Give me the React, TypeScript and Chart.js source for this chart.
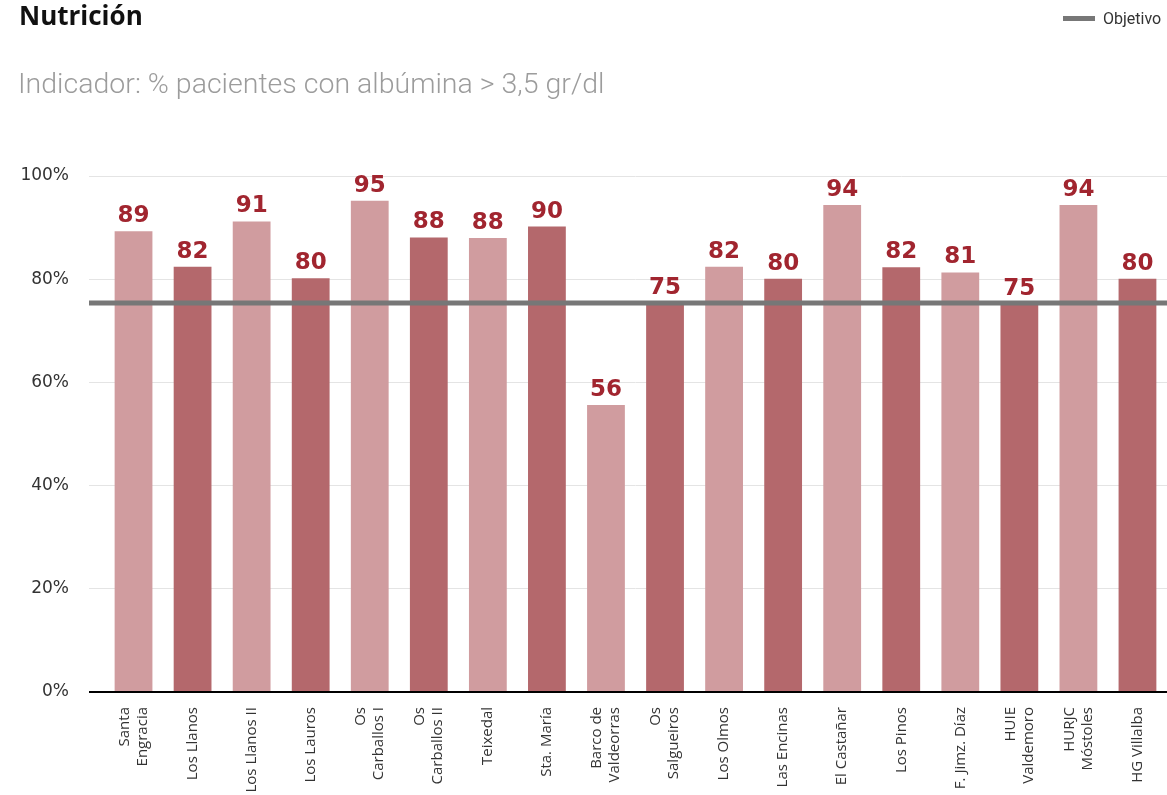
import React, { useEffect, useRef } from "react";
import { Chart, registerables } from "chart.js";

Chart.register(...registerables);

const TITLE = "Nutrición";
const SUBTITLE = "Indicador: % pacientes con albúmina > 3,5 gr/dl";
const LEGEND_LABEL = "Objetivo";

const CATEGORIES: (string | string[])[] = [
  ["Santa", "Engracia"],
  "Los Llanos",
  "Los Llanos II",
  "Los Lauros",
  ["Os", "Carballos I"],
  ["Os", "Carballos II"],
  "Teixedal",
  "Sta. María",
  ["Barco de", "Valdeorras"],
  ["Os", "Salgueiros"],
  "Los Olmos",
  "Las Encinas",
  "El Castañar",
  "Los Pinos",
  "F. Jimz. Díaz",
  ["HUIE", "Valdemoro"],
  ["HURJC", "Móstoles"],
  "HG Villalba",
];

const VALUES: number[] = [
  89.3, 82.4, 91.2, 80.2, 95.2, 88.1, 88.0, 90.2, 55.6, 75.3, 82.4, 80.1, 94.4, 82.3, 81.3, 75.2, 94.4, 80.1,
];

const OBJETIVO = 75.4;
const Y_MIN = 0;
const Y_MAX = 100;
const Y_STEP = 20;

const LIGHT = "#d09c9f";
const DARK = "#b4686c";
const LABEL_COLOR = "#a1252f";
const TARGET_COLOR = "#777777";

export default function App() {
  const canvasRef = useRef<HTMLCanvasElement | null>(null);

  useEffect(() => {
    document.body.style.margin = "0";
    const canvas = canvasRef.current;
    if (!canvas) return;

    const overlay = {
      id: "overlay",
      afterDatasetsDraw(chart: any) {
        const { ctx, chartArea, scales } = chart;
        const y = scales.y.getPixelForValue(OBJETIVO);
        ctx.save();
        ctx.strokeStyle = TARGET_COLOR;
        ctx.lineWidth = 5;
        ctx.beginPath();
        ctx.moveTo(chartArea.left - 15, y);
        ctx.lineTo(chartArea.right, y);
        ctx.stroke();

        const meta = chart.getDatasetMeta(0);
        ctx.font = "bold 23px 'DejaVu Sans'";
        ctx.fillStyle = LABEL_COLOR;
        ctx.textAlign = "center";
        ctx.textBaseline = "alphabetic";
        meta.data.forEach((bar: any, i: number) => {
          ctx.fillText(String(Math.round(VALUES[i])), bar.x, bar.y - 9);
        });
        ctx.restore();
      },
      afterDraw(chart: any) {
        const { ctx, chartArea, scales } = chart;
        const lh = 18;
        ctx.save();
        ctx.font = "15px 'Open Sans'";
        ctx.fillStyle = "#333";
        ctx.textAlign = "right";
        ctx.textBaseline = "middle";
        CATEGORIES.forEach((lab, i) => {
          const lines = Array.isArray(lab) ? lab : [lab];
          const cx = scales.x.getPixelForValue(i);
          lines.forEach((line, j) => {
            const x = cx + (j - (lines.length - 1) / 2) * lh;
            ctx.save();
            ctx.translate(x, chartArea.bottom + 15);
            ctx.rotate(-Math.PI / 2);
            ctx.fillText(line, 0, 0);
            ctx.restore();
          });
        });
        ctx.restore();
      },
    };

    const chart = new Chart(canvas, {
      type: "bar",
      data: {
        labels: CATEGORIES,
        datasets: [
          {
            label: "Valor",
            data: VALUES,
            backgroundColor: VALUES.map((_, i) => (i % 2 === 0 ? LIGHT : DARK)),
            borderWidth: 0,
            barPercentage: 0.64,
            categoryPercentage: 1,
          },
        ],
      },
      options: {
        animation: false,
        responsive: false,
        maintainAspectRatio: false,
        layout: { padding: { top: 176, left: 0, right: 0, bottom: 0 } },
        plugins: {
          legend: { display: false },
          tooltip: { enabled: false },
        },
        scales: {
          x: {
            grid: { display: false },
            border: { display: false },
            ticks: { display: false, autoSkip: false },
            afterFit: (axis: any) => {
              axis.height = 103;
            },
          },
          y: {
            min: Y_MIN,
            max: Y_MAX,
            border: { display: false },
            ticks: {
              stepSize: Y_STEP,
              padding: 20,
              color: "#333",
              font: { family: "'DejaVu Sans'", size: 17 },
              callback: (v: any) => v + "%",
            },
            grid: {
              color: (c: any) => (c.tick && c.tick.value === 0 ? "#000" : "#e4e4e4"),
              tickColor: (c: any) => (c.tick && c.tick.value === 0 ? "#000" : "#e4e4e4"),
              lineWidth: (c: any) => (c.tick && c.tick.value === 0 ? 2 : 1),
              drawTicks: true,
              tickLength: 15,
            },
            afterFit: (axis: any) => {
              axis.width = 104;
            },
          },
        },
      },
      plugins: [overlay],
    });

    return () => chart.destroy();
  }, []);

  return (
    <div style={{ position: "relative", width: 1167, height: 795, overflow: "hidden" }}>
      <canvas ref={canvasRef} width={1167} height={795} style={{ display: "block" }} />
      <div
        style={{
          position: "absolute",
          left: 19,
          top: 2,
          fontFamily: "'Open Sans'",
          fontWeight: 700,
          fontSize: 26,
          lineHeight: 1,
          color: "#111",
        }}
      >
        {TITLE}
      </div>
      <div
        style={{
          position: "absolute",
          left: 18,
          top: 70,
          fontFamily: "Roboto",
          fontWeight: 300,
          fontSize: 28.5,
          lineHeight: 1,
          color: "#9c9c9c",
        }}
      >
        {SUBTITLE}
      </div>
      <div
        style={{
          position: "absolute",
          left: 1063,
          top: 9,
          display: "flex",
          alignItems: "center",
          height: 18,
          fontFamily: "Roboto",
          fontSize: 16,
          color: "#333",
        }}
      >
        <span style={{ display: "inline-block", width: 32, height: 5, background: TARGET_COLOR, marginRight: 8 }} />
        <span>{LEGEND_LABEL}</span>
      </div>
    </div>
  );
}
